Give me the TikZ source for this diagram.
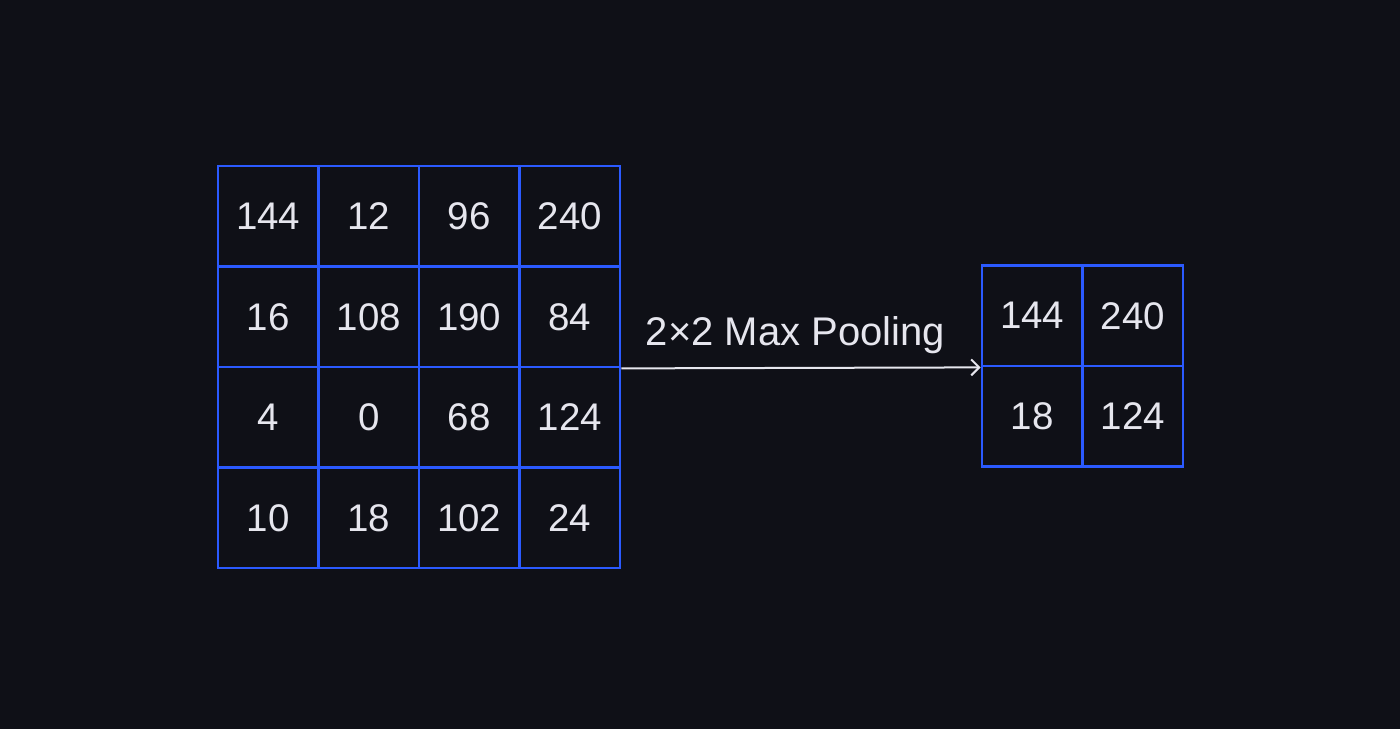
\documentclass[tikz,border=0pt]{standalone}
\usepackage{fontspec}
\setmainfont{Liberation Sans}
\usetikzlibrary{arrows.meta}
\definecolor{bg}{HTML}{0F1017}
\definecolor{gridblue}{HTML}{2B5AFF}
\definecolor{txt}{HTML}{E6E6EE}
\begin{document}
\begin{tikzpicture}[x=1pt,y=1pt,
  cell/.style={draw=gridblue, line width=2.8pt, minimum size=100.5pt, inner sep=0pt,
    text=txt, font=\fontsize{38.5}{40}\selectfont},
  conn/.style={draw=txt, line width=2pt, -{Straight Barb[length=8pt,width=16pt,line width=2pt]}},
  lbl/.style={text=txt, font=\fontsize{40}{44}\selectfont, inner sep=0pt, anchor=base}]
\fill[bg] (0,0) rectangle (1400,729);
\useasboundingbox (0,0) rectangle (1400,729);
% left 4x4 grid
\foreach \r/\vals in {0/{144,12,96,240},1/{16,108,190,84},2/{4,0,68,124},3/{10,18,102,24}}{
  \foreach \v [count=\c from 0] in \vals {
    \node[cell] (l\r\c) at ({268.25+100.5*\c},{729-216.25-100.5*\r}) {\raisebox{-2pt}{\v}};
  }
}
% right 2x2 grid
\foreach \r/\vals in {0/{144,240},1/{18,124}}{
  \foreach \v [count=\c from 0] in \vals {
    \node[cell] (r\r\c) at ({1032.25+100.5*\c},{729-315.75-100.5*\r}) {\raisebox{-2pt}{\v}};
  }
}
\draw[conn] (l13.south east) -- (r00.south west);
\node[lbl] (cap) at (795.5,383) {2×2 Max Pooling};
\end{tikzpicture}
\end{document}
